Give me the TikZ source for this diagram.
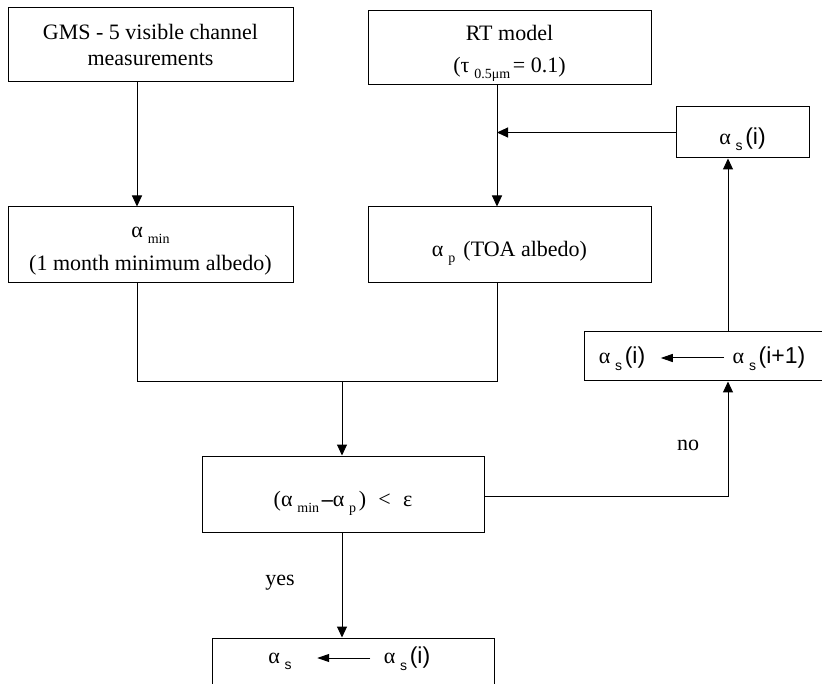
\documentclass[tikz,border=0pt]{standalone}
\usepackage{fontspec}
\setmainfont{Liberation Serif}
\setsansfont{Liberation Sans}
\usetikzlibrary{arrows.meta}

\newcommand{\lo}[1]{\hspace{0.22em}\raisebox{-0.6ex}[0pt][0pt]{\fontsize{14}{14}\selectfont #1}\hspace{0.12em}}
\tikzset{
  box/.style={draw, line width=1pt, align=center, inner sep=0pt},
  arr/.style={-{Triangle[width=10pt,length=11pt]}, line width=1pt},
  larr/.style={-{Triangle[width=8pt,length=12pt]}, line width=1pt}
}

\begin{document}
\begin{tikzpicture}[x=1pt,y=-1pt,font=\fontsize{22}{26}\selectfont]
            \clip (0,0) rectangle (822,684);

            \node[box, minimum width=285pt, minimum height=74pt] (GMS) at (150.5,45) {GMS - 5 visible channel\\measurements};
            \node[box, minimum width=283pt, minimum height=74pt] (RT) at (509.5,48) {\rule{0pt}{21pt}RT model\\[6pt](τ\lo{0.5μm}= 0.1)};
            \node[box, minimum width=285pt, minimum height=76pt] (AMIN) at (150.5,245) {\rule{0pt}{22pt}α\lo{min}\\[7pt](1 month minimum albedo)};
            \node[box, minimum width=283pt, minimum height=76pt] (AP) at (509.5,245) {\rule{0pt}{28pt}α\lo{p} (TOA albedo)};
            \node[box, minimum width=133pt, minimum height=51pt] (AS1) at (742.5,132.5) {\rule{0pt}{28pt}α\lo{\sffamily s}\textsf{\fontsize{23}{26}\selectfont(i)}};
            \node[box, minimum width=248pt, minimum height=49pt] (UPD) at (708,356.5) {};
            \node[box, minimum width=282pt, minimum height=76pt] (TEST) at (343,494) {\rule{0pt}{30pt}(α\lo{min}{\bfseries –}α\lo{p})\;\;<\;\;ε};
            \node[box, minimum width=282pt, minimum height=52pt] (OUT) at (353,664) {};

            % texts inside the update and result boxes
            \node (UL) at (622,358) {α\lo{\sffamily s}\textsf{\fontsize{23}{26}\selectfont(i)}};
            \node (UR) at (769,358) {α\lo{\sffamily s}\textsf{\fontsize{23}{26}\selectfont(i+1)}};
            \node (OL) at (280,658) {α\lo{\sffamily s}};
            \node (OR) at (407,658) {α\lo{\sffamily s}\textsf{\fontsize{23}{26}\selectfont(i)}};
            \draw[larr, shorten >=12pt, shorten <=5pt] (UR.west) -- (UL.east);
            \draw[larr, shorten >=22pt, shorten <=10pt] (OR.west) -- (OL.east);

            \node (YES) at (280,583) {yes};
            \node (NO) at (688,445) {no};

            \coordinate (L) at (137,382);
            \coordinate (R) at (497,382);
            \coordinate (M) at (342,382);
            \coordinate (N) at (728,496);

            \draw[arr] (GMS.south -| L) -- (AMIN.north -| L);
            \draw[arr] (RT.south -| R) -- (AP.north -| R);
            \draw[arr] (AS1.west) -- (AS1.west -| R);
            \draw[line width=1pt] (AMIN.south -| L) -- (L) -- (R) -- (AP.south -| R);
            \draw[arr] (M) -- (M |- TEST.north);
            \draw[arr] (M |- TEST.south) -- (M |- OUT.north);
            \draw[arr] (TEST.east |- N) -- (N) -- (UPD.south -| N);
            \draw[arr] (UPD.north -| N) -- (AS1.south -| N);
        \end{tikzpicture}
\end{document}
